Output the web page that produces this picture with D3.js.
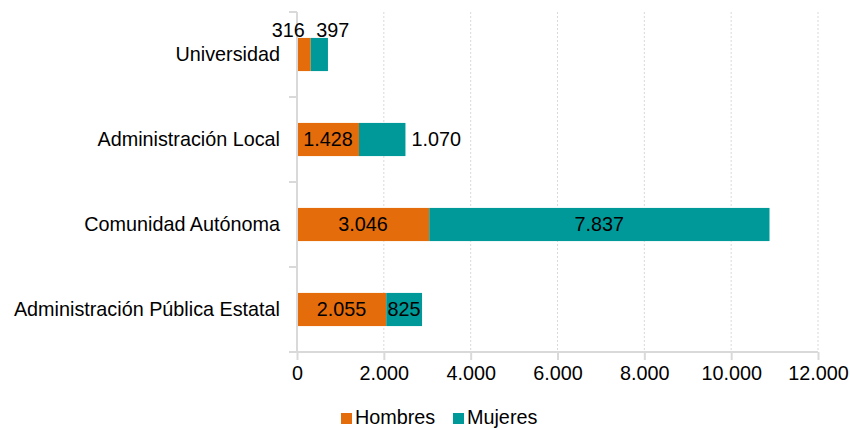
<!DOCTYPE html>
<html>
<head>
<meta charset="utf-8">
<script src="https://cdn.jsdelivr.net/npm/d3@7"></script>
<style>
body { margin: 0; background: #fff; }
text { font-family: "Liberation Sans", Arial, sans-serif; fill: #000; }
</style>
</head>
<body>
<svg id="viz"></svg>
<script>
var width = 850;
var height = 430;

// data
var categories = ["Universidad", "Administración Local", "Comunidad Autónoma", "Administración Pública Estatal"];
var hombres = [316, 1428, 3046, 2055];
var mujeres = [397, 1070, 7837, 825];
var seriesNames = ["Hombres", "Mujeres"];
var xTicks = [0, 2000, 4000, 6000, 8000, 10000, 12000];

var colors = ["#E46C0A", "#009999"];
var fontSize = 19.8;

var svg = d3.select("#viz")
	.attr("width", width)
	.attr("height", height)
	.style("display", "block");

var x = d3.scaleLinear().domain([0, 12000]).range([297, 818]);
var y = d3.scaleBand().domain(categories).range([12, 352]).paddingInner(0.61).paddingOuter(0.305);

var fmt = function(v) { return d3.format(",")(v).replace(/,/g, "."); };

// gridlines
svg.selectAll(".grid")
	.data(xTicks.slice(1))
	.join("line")
	.attr("class", "grid")
	.attr("x1", d => x(d)).attr("x2", d => x(d))
	.attr("y1", 12).attr("y2", 352)
	.style("stroke", "#d9d9d9")
	.style("stroke-width", 1)
	.style("stroke-dasharray", "2,2");

// bars
var rows = categories.map((c, i) => ({cat: c, h: hombres[i], m: mujeres[i]}));

svg.selectAll(".bar-h")
	.data(rows)
	.join("rect")
	.attr("class", "bar-h")
	.attr("x", x(0))
	.attr("y", d => y(d.cat))
	.attr("width", d => x(d.h) - x(0))
	.attr("height", y.bandwidth())
	.style("fill", colors[0]);

svg.selectAll(".bar-m")
	.data(rows)
	.join("rect")
	.attr("class", "bar-m")
	.attr("x", d => x(d.h))
	.attr("y", d => y(d.cat))
	.attr("width", d => x(d.h + d.m) - x(d.h))
	.attr("height", y.bandwidth())
	.style("fill", colors[1]);

// x axis
var xAxis = svg.append("g")
	.attr("transform", "translate(0,352)")
	.call(d3.axisBottom(x).tickValues(xTicks).tickFormat(fmt).tickSize(8).tickSizeOuter(0).tickPadding(6));
xAxis.select(".domain").remove();
xAxis.selectAll("line").style("stroke", "#d9d9d9").style("stroke-width", 2);
xAxis.selectAll("text").style("font-size", fontSize + "px").style("font-family", "Liberation Sans, Arial, sans-serif");
svg.append("line")
	.attr("x1", 289).attr("x2", 818)
	.attr("y1", 352).attr("y2", 352)
	.style("stroke", "#d9d9d9").style("stroke-width", 2);

// y axis
svg.append("line")
	.attr("x1", 297).attr("x2", 297)
	.attr("y1", 12).attr("y2", 352)
	.style("stroke", "#d9d9d9").style("stroke-width", 2);
svg.selectAll(".ytick")
	.data(d3.range(5).map(i => 12 + i * y.step()))
	.join("line")
	.attr("class", "ytick")
	.attr("x1", 289).attr("x2", 297)
	.attr("y1", d => d).attr("y2", d => d)
	.style("stroke", "#d9d9d9").style("stroke-width", 2);

svg.selectAll(".cat")
	.data(categories)
	.join("text")
	.attr("class", "cat")
	.attr("x", 280)
	.attr("y", d => y(d) + y.bandwidth() / 2)
	.attr("dy", "0.35em")
	.attr("text-anchor", "end")
	.style("font-size", fontSize + "px")
	.text(d => d);

// value labels
var labels = [];
rows.forEach((d, i) => {
	var cy = y(d.cat) + y.bandwidth() / 2;
	if (i === 0) {
		labels.push({t: fmt(d.h), x: x(d.h / 2) + 1, y: y(d.cat) - 8, a: "end"});
		labels.push({t: fmt(d.m), x: x(d.h + d.m / 2) - 3, y: y(d.cat) - 8, a: "start"});
	} else if (i === 1) {
		labels.push({t: fmt(d.h), x: x(d.h / 2), y: cy, a: "middle"});
		labels.push({t: fmt(d.m), x: x(d.h + d.m) + 6, y: cy, a: "start"});
	} else {
		labels.push({t: fmt(d.h), x: x(d.h / 2), y: cy, a: "middle"});
		labels.push({t: fmt(d.m), x: x(d.h + d.m / 2), y: cy, a: "middle"});
	}
});
svg.selectAll(".val")
	.data(labels)
	.join("text")
	.attr("class", "val")
	.attr("x", d => d.x)
	.attr("y", d => d.y)
	.attr("dy", "0.35em")
	.attr("text-anchor", d => d.a)
	.style("font-size", fontSize + "px")
	.text(d => d.t);

// legend (kept just inside the bottom edge)
var legend = svg.append("g").attr("transform", "translate(341,413)");
var legX = [0, 112];
seriesNames.forEach((s, i) => {
	legend.append("rect")
		.attr("x", legX[i]).attr("y", 0)
		.attr("width", 11).attr("height", 11)
		.style("fill", colors[i]);
	legend.append("text")
		.attr("x", legX[i] + 14).attr("y", 11)
		.style("font-size", fontSize + "px")
		.text(s);
});
</script>
</body>
</html>
